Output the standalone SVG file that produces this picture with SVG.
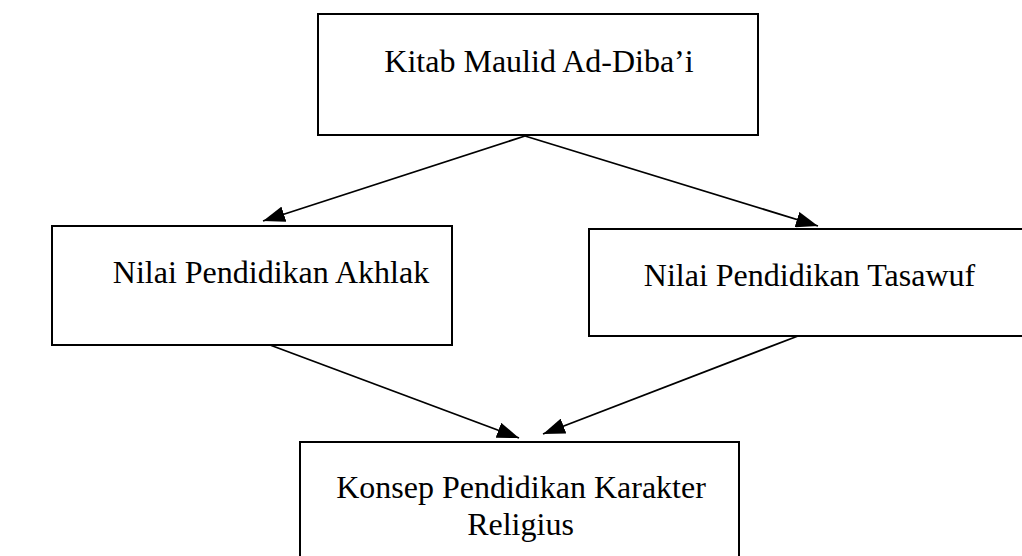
<svg xmlns="http://www.w3.org/2000/svg" width="1022" height="556" viewBox="0 0 1022 556">
<style>
.box{fill:#fff;stroke:#000;stroke-width:2}
.lbl{font-family:'Liberation Serif',serif;font-size:32px;fill:#000;text-anchor:middle}
.conn line{stroke:#000;stroke-width:1.8;fill:none}
</style>
<defs>
<marker id="ah" markerUnits="userSpaceOnUse" markerWidth="23" markerHeight="16" refX="22" refY="8" orient="auto">
<path d="M0,0 L22,8 L0,16 Z" fill="#000"/>
</marker>
</defs>
<rect width="1022" height="556" fill="#fff"/>
<g id="n-kitab">
<rect class="box" x="318" y="14" width="440" height="121"/>
<text class="lbl" x="539" y="72">Kitab Maulid Ad-Diba’i</text>
</g>
<g id="n-akhlak">
<rect class="box" x="52" y="226" width="400" height="119"/>
<text class="lbl" x="271" y="283">Nilai Pendidikan Akhlak</text>
</g>
<g id="n-tasawuf">
<rect class="box" x="589" y="229" width="440" height="107"/>
<text class="lbl" x="809.5" y="286">Nilai Pendidikan Tasawuf</text>
</g>
<g id="n-konsep">
<rect class="box" x="300" y="442" width="439" height="120"/>
<text class="lbl" x="521" y="498">Konsep Pendidikan Karakter</text>
<text class="lbl" x="520.5" y="535">Religius</text>
</g>
<g id="connectors" class="conn">
<line x1="525" y1="136" x2="263" y2="221" marker-end="url(#ah)"/>
<line x1="525" y1="136" x2="818" y2="226" marker-end="url(#ah)"/>
<line x1="270" y1="345" x2="519" y2="438" marker-end="url(#ah)"/>
<line x1="798" y1="336" x2="543" y2="434" marker-end="url(#ah)"/>
</g>
</svg>
